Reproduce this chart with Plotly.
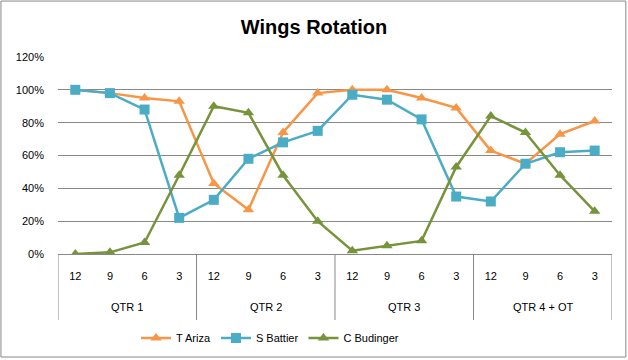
import plotly.graph_objects as go

quarter_names = ["QTR 1", "QTR 2", "QTR 3", "QTR 4 + OT"]
minute_labels = ["12", "9", "6", "3"]
quarters = [q for q in quarter_names for _ in minute_labels]
minutes = minute_labels * len(quarter_names)

ariza = [1.00, 0.98, 0.95, 0.93, 0.43, 0.27, 0.74, 0.98,
         1.00, 1.00, 0.95, 0.89, 0.63, 0.55, 0.73, 0.81]
battier = [1.00, 0.98, 0.88, 0.22, 0.33, 0.58, 0.68, 0.75,
           0.97, 0.94, 0.82, 0.35, 0.32, 0.55, 0.62, 0.63]
budinger = [0.00, 0.01, 0.07, 0.48, 0.90, 0.86, 0.48, 0.20,
            0.02, 0.05, 0.08, 0.53, 0.84, 0.74, 0.48, 0.26]

series = [
    ("T Ariza", ariza, "#F79646", "triangle-up"),
    ("S Battier", battier, "#4BACC6", "square"),
    ("C Budinger", budinger, "#77933C", "triangle-up"),
]

xpos = list(range(len(minutes)))
n_per = len(minute_labels)

fig = go.Figure()
for name, vals, color, sym in series:
    fig.add_trace(go.Scatter(
        x=xpos, y=vals, name=name, mode="lines+markers",
        line=dict(color=color, width=2.5),
        marker=dict(symbol=sym, size=10, color=color),
    ))

font = "Liberation Sans"
grey = "#888888"
fig.update_layout(
    width=628, height=360,
    margin=dict(l=58, r=16, t=57, b=106, autoexpand=False),
    paper_bgcolor="white", plot_bgcolor="white",
    font=dict(family=font, size=11, color="black"),
    title=dict(text="<b>Wings Rotation</b>", x=0.5, xanchor="center",
               y=0.925, yanchor="middle", font=dict(size=20, family=font)),
    showlegend=True,
    legend=dict(orientation="h", xref="container", x=0.43, xanchor="center",
                yref="container", y=0.061, yanchor="middle",
                font=dict(size=11), tracegroupgap=0),
)
fig.update_yaxes(range=[0, 1.2], dtick=0.2, tickformat=".0%", showgrid=True,
                 gridcolor=grey, gridwidth=1, zeroline=False, showline=False,
                 ticks="", automargin=False, ticklabelstandoff=13, fixedrange=True)
fig.update_xaxes(range=[-0.5, len(minutes) - 0.5], tickmode="array",
                 tickvals=xpos, ticktext=minutes, showgrid=False, showline=True,
                 linecolor=grey, linewidth=1, ticks="", automargin=False,
                 ticklabelstandoff=12, zeroline=False, fixedrange=True)

# quarter group labels and dividers
for i, q in enumerate(quarter_names):
    centre = i * n_per + (n_per - 1) / 2
    fig.add_annotation(x=centre, xref="x", y=-0.27, yref="paper", text=q,
                       showarrow=False, yanchor="middle", font=dict(size=11))
for i in range(len(quarter_names) + 1):
    fig.add_shape(type="line", xref="x", yref="paper",
                  x0=i * n_per - 0.5, x1=i * n_per - 0.5, y0=0, y1=-0.335,
                  line=dict(color=grey, width=1))

fig.add_shape(type="rect", xref="paper", yref="paper",
              x0=-0.103, x1=1.025, y0=-0.523, y1=1.284,
              line=dict(color=grey, width=1), layer="below")

fig.write_html("out.html", config={"displayModeBar": False},
               post_script="document.body.style.margin='0';")
